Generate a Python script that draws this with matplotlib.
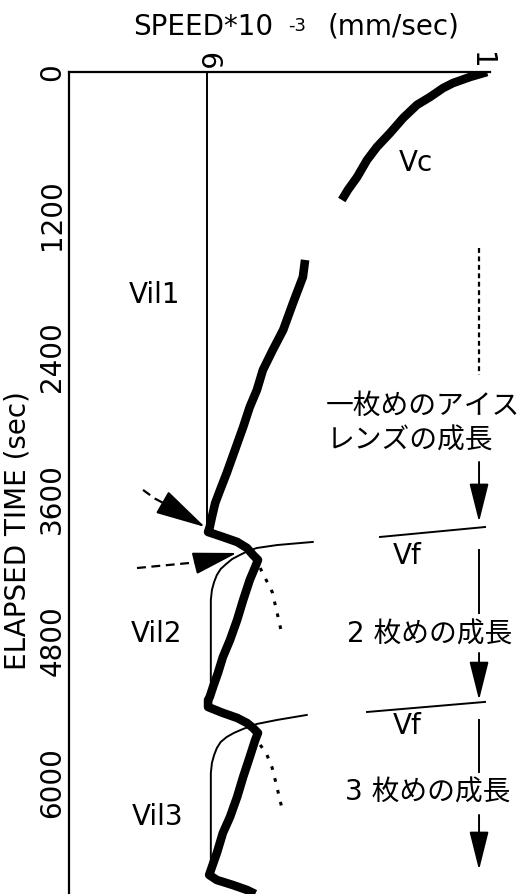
import matplotlib
matplotlib.use("Agg")
import matplotlib.pyplot as plt

plt.rcParams['font.family'] = ['DejaVu Sans', 'Noto Sans CJK JP']

# ---- data (speed in 10^-3 mm/sec, time in sec) ----
vc_speed = [0.89, 1.20, 1.51, 1.69, 1.93, 2.17, 2.42, 2.66, 2.90, 3.08, 3.26, 3.43, 3.54]
vc_time = [0, 42, 93, 135, 211, 278, 388, 515, 633, 743, 886, 996, 1080]

vil_speed = [4.21, 4.25, 4.43, 4.61, 4.80, 4.98, 5.09, 5.22, 5.34, 5.49, 5.64, 5.76, 5.85, 5.91, 5.95, 5.98,
             5.71, 5.45, 5.27, 5.16, 5.07,
             5.12, 5.22, 5.34, 5.45, 5.58, 5.71, 5.80, 5.89, 5.95, 5.98,
             5.98, 5.71, 5.45, 5.27, 5.16, 5.07,
             5.12, 5.22, 5.34, 5.45, 5.58, 5.71, 5.82, 5.91, 5.96,
             5.82, 5.53, 5.27, 5.12]
vil_time = [1586, 1730, 1949, 2177, 2346, 2515, 2684, 2827, 2996, 3190, 3384, 3527, 3637, 3755, 3840, 3882,
            3924, 3966, 4017, 4076, 4118,
            4177, 4287, 4456, 4624, 4793, 4937, 5072, 5190, 5274, 5300,
            5359, 5409, 5451, 5494, 5536, 5578,
            5637, 5781, 5949, 6118, 6287, 6422, 6591, 6709, 6776,
            6819, 6861, 6903, 6937]

ref_speed = [6.0, 6.0]
ref_time = [0, 3865]

fit2_speed = [5.93, 5.93, 5.91, 5.87, 5.82, 5.75, 5.65, 5.54, 5.40, 5.25, 5.09, 4.72, 4.07]
fit2_time = [5300, 4456, 4371, 4304, 4245, 4194, 4152, 4110, 4076, 4042, 4017, 3992, 3966]
fit3_speed = [5.93, 5.93, 5.91, 5.87, 5.82, 5.75, 5.64, 5.51, 5.34, 5.09, 4.72, 4.18]
fit3_time = [6759, 5916, 5831, 5764, 5705, 5654, 5612, 5578, 5544, 5502, 5468, 5426]

dot2_speed = [5.03, 4.92, 4.81, 4.72, 4.63]
dot2_time = [4186, 4287, 4388, 4565, 4751]
dot3_speed = [5.03, 4.92, 4.81, 4.72, 4.63]
dot3_time = [5679, 5747, 5873, 6042, 6219]

yticks = [0, 1200, 2400, 3600, 4800, 6000]
xticks = [6, 1]
xtick_labels = ['6', '1']

# ---- figure ----
W, H = 521, 894
fig = plt.figure(figsize=(W / 100, H / 100), dpi=100)
ax = fig.add_axes([69 / W, 0, (490 - 69) / W, (H - 72) / H])
ax.set_xlim(8.518, 0.836)
ax.set_ylim(6937, 0)

for s in ['right', 'bottom']:
    ax.spines[s].set_visible(False)
for s in ['left', 'top']:
    ax.spines[s].set_linewidth(1.6)

ax.xaxis.tick_top()
ax.set_xticks(xticks)
ax.set_xticklabels(xtick_labels, rotation=-90, fontsize=20)
ax.set_yticks(yticks)
ax.set_yticklabels([str(v) for v in yticks], rotation=90, fontsize=20, va='center')
ax.tick_params(axis='both', length=0, pad=2)

ax.set_ylabel('ELAPSED TIME (sec)', fontsize=20)
ax.yaxis.set_label_coords(-0.09, 0.4416)

# thick curves
ax.plot(vc_speed, vc_time, color='black', lw=6.2, solid_capstyle='butt', solid_joinstyle='round')
ax.plot(vil_speed, vil_time, color='black', lw=6.2, solid_capstyle='butt', solid_joinstyle='round')

# thin lines
ax.plot(ref_speed, ref_time, color='black', lw=1.4)
ax.plot(fit2_speed, fit2_time, color='black', lw=1.4, solid_joinstyle='round')
ax.plot(fit3_speed, fit3_time, color='black', lw=1.4, solid_joinstyle='round')
ax.plot(dot2_speed, dot2_time, color='black', lw=2.2, linestyle=(0, (1.2, 2.8)))
ax.plot(dot3_speed, dot3_time, color='black', lw=2.2, linestyle=(0, (1.2, 2.8)))

# dashed arrows (left)
ax.plot([7.168, 6.95, 6.73], [3527, 3600, 3654], color='black', lw=1.6, linestyle=(0, (4, 2.5)))
ax.annotate('', xy=(6.036, 3840), xytext=(6.73, 3654),
            arrowprops=dict(arrowstyle='-|>,head_length=1.6,head_width=0.4', mutation_scale=20,
                            color='black', lw=1.4, shrinkA=0, shrinkB=0))
ax.plot([7.277, 6.128], [4186, 4135], color='black', lw=1.6, linestyle=(0, (4, 2.5)))
ax.annotate('', xy=(5.453, 4059), xytext=(6.128, 4135),
            arrowprops=dict(arrowstyle='-|>,head_length=1.4,head_width=0.35', mutation_scale=20,
                            color='black', lw=1.4, shrinkA=0, shrinkB=0))

# right-side annotations
xr = 1.036
ax.plot([xr, xr], [1485, 2557], color='black', lw=1.6, linestyle=(0, (2.2, 1.6)), clip_on=False)
def down_arrow(y0, y1):
    ax.annotate('', xy=(xr, y1), xytext=(xr, y0),
                arrowprops=dict(arrowstyle='-|>,head_length=1.2,head_width=0.3', mutation_scale=20,
                                color='black', lw=1.4, shrinkA=0, shrinkB=0),
                annotation_clip=False)
down_arrow(3291, 3797)
ax.plot([2.843, 0.927], [3924, 3840], color='black', lw=1.4, clip_on=False)
ax.plot([xr, xr], [4034, 4565], color='black', lw=1.4, clip_on=False)
down_arrow(4903, 5300)
ax.plot([3.080, 0.927], [5401, 5316], color='black', lw=1.4, clip_on=False)
ax.plot([xr, xr], [5468, 5907], color='black', lw=1.4, clip_on=False)
down_arrow(6270, 6734)

# labels
txt = dict(fontsize=20, ha='center', va='center', clip_on=False)
ax.text(2.186, 768, 'Vc', **txt)
ax.text(6.949, 1882, 'Vil1', **txt)
ax.text(6.912, 4743, 'Vil2', **txt)
ax.text(6.894, 6287, 'Vil3', **txt)
ax.text(2.350, 4084, 'Vf', **txt)
ax.text(2.350, 5519, 'Vf', **txt)
ax.text(2.058, 2819, '一枚めのアイス', **txt)
ax.text(2.296, 3114, 'レンズの成長', **txt)
ax.text(1.931, 4751, '2 枚めの成長', **txt)
ax.text(1.967, 6084, '3 枚めの成長', **txt)

# title
fig.text(133 / W, 1 - 27 / H, 'SPEED*10', fontsize=20, ha='left', va='center')
fig.text(288 / W, 1 - 26 / H, '-3', fontsize=13, ha='left', va='center')
fig.text(328 / W, 1 - 27 / H, '(mm/sec)', fontsize=20, ha='left', va='center')

fig.savefig('out.png', dpi=100)
